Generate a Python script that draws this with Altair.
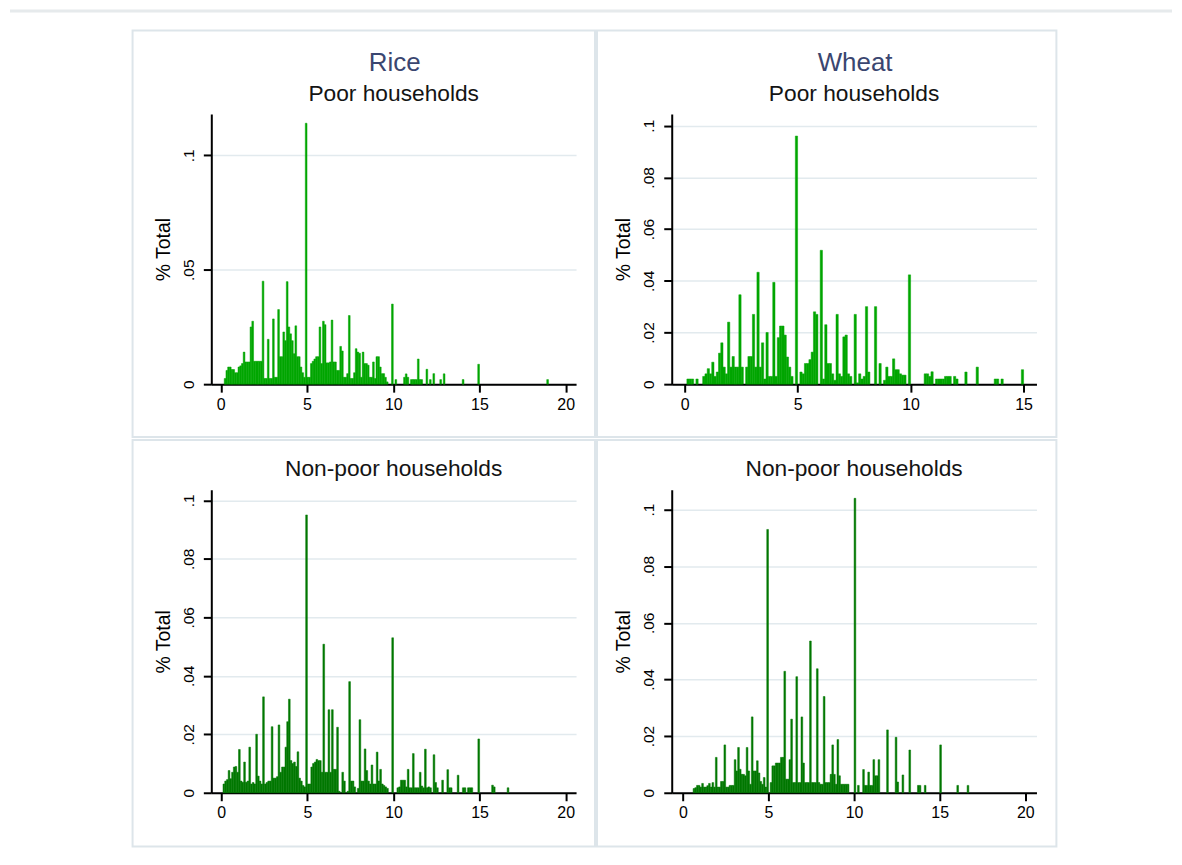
import altair as alt
import pandas as pd

BIN = 0.1
FONT = "Liberation Sans"

# Share of households per 0.1-wide bin, bins start at 0.0
rice_poor = [
    0, 0, .0025, .006, .0075, .0075, .0064, .0064, .005, .005,
    .0075, .008, .009, .014, .0097, .0097, .0097, .025, .0275, .010,
    .010, .010, .010, .010, .045, .0025, .0025, .0196, .0025, .0025,
    .0285, .003, .003, .0326, .012, .012, .0228, .019, .0448, .025,
    .022, .019, .0133, .0255, .012, .012, .0075, .005, .003, .114,
    .003, .003, .009, .010, .011, .012, .012, .025, .009, .0275,
    .026, .0093, .0093, .0097, .028, .0097, .0097, .006, .006, .0165,
    .0145, .003, .003, .0046, .030, .0025, .0025, .005, .0155, .014,
    .0135, .003, .014, .009, .009, .0083, .003, .003, .0097, .0025,
    .012, .012, .0075, .0046, .0046, .003, .001, 0, 0, .035,
    0, .002, 0, 0, 0, 0, .003, .0045, .003, 0,
    .002, .002, .002, .002, .011, .002, .002, 0, 0, .0065,
    0, .002, 0, .0046, 0, 0, 0, .002, 0, .0045,
    0, 0, 0, 0, 0, 0, 0, 0, 0, 0,
    .002, 0, 0, 0, 0, 0, 0, 0, 0, .0087,
    0, 0, 0, 0, 0, 0, 0, 0, 0, 0,
    0, 0, 0, 0, 0, 0, 0, 0, 0, 0,
    0, 0, 0, 0, 0, 0, 0, 0, 0, 0,
    0, 0, 0, 0, 0, 0, 0, 0, 0, .002,
]

wheat_poor = [
    0, .002, .002, .002, 0, .002, 0, 0, .003, .004,
    .006, .004, .0085, .003, .0047, .012, .016, .0066, .004, .024,
    .0066, .0107, .0066, .0066, .0346, .0066, 0, .0066, .0107, .0107,
    .027, .0066, .0433, .0066, .016, .002, .020, .003, .003, .0394,
    .003, .018, .0225, .0225, .019, .0105, .0066, .003, 0, .096,
    0, .0047, .004, .008, .008, .0095, .0124, .028, .027, 0,
    .0518, .002, .023, .008, .008, .004, .0015, .027, .004, .003,
    .0183, .019, .004, .003, 0, .027, .0005, .004, .002, .003,
    .030, .0047, 0, 0, .030, 0, .008, 0, .0015, .0066,
    .003, .003, .0098, .0056, .0056, .004, .0035, .0035, 0, .0423,
    0, 0, 0, 0, 0, 0, .004, .004, .003, .0048,
    0, .002, .002, .002, .002, .003, .003, .003, 0, .003,
    .002, 0, 0, 0, .0047, 0, 0, 0, 0, .0066,
    0, 0, 0, 0, 0, 0, 0, .002, .002, 0,
    .002, 0, 0, 0, 0, 0, 0, 0, 0, .0056,
]

rice_nonpoor = [
    0, .003, .004, .0045, .0076, .0048, .007, .0088, .009, .007,
    .0148, .004, .0036, .0105, .0036, .004, .0156, .003, .0035, .003,
    .020, .0057, .004, .003, .0328, .003, .0035, .004, .004, .0226,
    .005, .005, .0055, .0232, .007, .0088, .0088, .0156, .0243, .032,
    .011, .010, .0105, .009, .014, .005, .004, .0025, .002, .095,
    .003, .003, .0088, .010, .0105, .0114, .011, .011, .007, .0508,
    .007, .007, .0284, .007, .0284, .008, .008, .0224, .0005, 0,
    .007, .004, 0, .0005, .038, .004, .004, .002, 0, .0015,
    .025, .004, .004, .015, .0076, .004, .003, .0095, .003, .003,
    .0139, .004, .008, .003, .0025, .002, .0015, 0, 0, .053,
    0, 0, .0017, .002, .0043, .0043, .0043, .002, .008, .0017,
    .0017, .0134, .0017, .0017, .0017, .007, .0023, .0017, .0149, .0017,
    .002, .0017, 0, .013, .0035, .0017, 0, 0, .0043, 0,
    0, .0079, .0017, .0017, 0, 0, 0, .006, 0, 0,
    .0017, .0017, 0, .0017, .0017, .0017, 0, 0, 0, .0184,
    0, 0, 0, 0, 0, 0, 0, .0026, .002, 0,
    0, 0, 0, 0, 0, 0, .0017,
]

wheat_nonpoor = [
    0, 0, 0, 0, 0, 0, .0015, .0018, .0026, .0026,
    .002, .0033, .002, .002, .0025, .0033, .002, .0036, .002, .0125,
    .002, .002, .004, .004, .0169, .002, .002, .0026, .0026, .0026,
    .0117, .0077, .016, .0083, .0065, .0065, .006, .016, .0077, .003,
    .0268, .0077, .0077, .0113, .007, .004, .003, .0054, .002, .093,
    0, .0036, .0095, .0095, .0105, .0105, .0105, .0125, .0125, .0429,
    .0048, .0048, .0117, .026, .0036, .0036, .041, .0036, .0036, .0268,
    .0105, .0036, .0036, .0036, .0536, .0036, .0036, .0036, .0438, .0036,
    .003, .003, .034, .0036, .0036, .0036, .0065, .0169, .0065, .003,
    .0188, .006, .003, .003, .003, .003, .003, 0, 0, 0,
    .104, 0, .0026, 0, 0, .0082, .0026, .0026, .0073, .0026,
    .0026, .0117, .006, .006, .0117, 0, 0, 0, 0, .0222,
    0, 0, 0, 0, .0196, .0038, 0, 0, .0063, 0,
    0, 0, .0151, 0, 0, 0, 0, .0026, .0026, 0,
    0, .0026, 0, 0, 0, 0, 0, 0, 0, 0,
    .0169, 0, 0, 0, 0, 0, 0, 0, 0, 0,
    .0026, 0, 0, 0, 0, 0, .0026,
]

X_TICKS_20 = [0, 5, 10, 15, 20]
X_TICKS_15 = [0, 5, 10, 15]
Y_TICKS_05 = [0, 0.05, 0.1]
Y_TICKS_02 = [0, 0.02, 0.04, 0.06, 0.08, 0.1]

PANEL_W = 366
TOP_H = 271
BOTTOM_H = 304

LIGHT_GREEN = "#00a600"
DARK_GREEN = "#007800"
FRAME_C = "#dde5ea"
GRID_C = "#e2eaee"
TITLE_C = "#3a4670"
SUB_C = "#141414"
INK = "#000000"
TITLE_SIZE = 26
SUB_SIZE = 22.8


def bars_table(values):
    lo, hi, share = [], [], []
    for i, v in enumerate(values):
        if v > 0:
            lo.append(round(i * BIN, 2))
            hi.append(round((i + 1) * BIN, 2))
            share.append(v)
    return pd.DataFrame({"lo": lo, "hi": hi, "share": share})


def text_layer(label, x, y, size, color):
    return alt.Chart(pd.DataFrame({"label": [label]})).mark_text(
        font=FONT, fontSize=size, color=color, align="center", baseline="alphabetic"
    ).encode(text="label:N", x=alt.value(x), y=alt.value(y))


def frame_layer(x1, x2, y1, y2):
    return alt.Chart(pd.DataFrame({"k": [0]})).mark_rect(
        fill="transparent", stroke=FRAME_C, strokeWidth=2
    ).encode(x=alt.value(x1), x2=alt.value(x2), y=alt.value(y1), y2=alt.value(y2))


def top_band_layer():
    return alt.Chart(pd.DataFrame({"k": [0]})).mark_rule(
        color="#e6eaec", strokeWidth=3
    ).encode(x=alt.value(-202), x2=alt.value(964), y=alt.value(-103.5))


def panel(values, color, xdom, xticks, ydom, yticks, height, frame, texts, extra=None):
    df = bars_table(values)
    bars = alt.Chart(df).mark_rect(color=color, stroke=color, strokeWidth=0.5).encode(
        x=alt.X(
            "lo:Q",
            scale=alt.Scale(domain=xdom, nice=False, zero=False),
            axis=alt.Axis(
                values=xticks, format="d", title="", grid=False,
                labelFont=FONT, labelFontSize=16, labelColor=INK,
                labelPadding=4, labelFlush=False, labelOverlap=False,
                tickSize=8, tickWidth=2, tickColor=INK,
                domainColor=INK, domainWidth=2,
            ),
        ),
        x2="hi:Q",
        y=alt.Y(
            "share:Q",
            scale=alt.Scale(domain=ydom, nice=False, zero=True),
            axis=alt.Axis(
                values=yticks,
                labelExpr="datum.value == 0 ? '0' : slice(toString(datum.value), 1)",
                labelAngle=270, labelAlign="center", labelBaseline="bottom",
                labelFont=FONT, labelFontSize=15.5, labelColor=INK,
                labelPadding=7, labelOverlap=False, labelFlush=False,
                tickSize=8, tickWidth=2, tickColor=INK,
                domainColor=INK, domainWidth=2,
                grid=True, gridColor=GRID_C, gridWidth=1.5,
                title="% Total", titleFont=FONT, titleFontSize=19.5,
                titleFontWeight="normal", titleColor=INK, titlePadding=8,
            ),
        ),
        y2=alt.datum(0),
    )
    layers = ([extra] if extra is not None else []) + [frame_layer(*frame), bars] + texts
    return alt.layer(*layers).properties(width=PANEL_W, height=height)


p1 = panel(
    rice_poor, LIGHT_GREEN, [-0.55, 20.6], X_TICKS_20, [0, 0.118], Y_TICKS_05, TOP_H,
    (-79, 385, -84, 324),
    [text_layer("Rice", 184, -43, TITLE_SIZE, TITLE_C),
     text_layer("Poor households", 183, -13, SUB_SIZE, SUB_C)],
    extra=top_band_layer(),
)
p2 = panel(
    wheat_poor, LIGHT_GREEN, [-0.57, 15.57], X_TICKS_15, [0, 0.1045], Y_TICKS_02, TOP_H,
    (-75, 386, -84, 324),
    [text_layer("Wheat", 184, -43, TITLE_SIZE, TITLE_C),
     text_layer("Poor households", 183, -13, SUB_SIZE, SUB_C)],
)
p3 = panel(
    rice_nonpoor, DARK_GREEN, [-0.58, 20.6], X_TICKS_20, [0, 0.1036], Y_TICKS_02, BOTTOM_H,
    (-79, 385, -50, 358),
    [text_layer("Non-poor households", 183, -14, SUB_SIZE, SUB_C)],
)
p4 = panel(
    wheat_nonpoor, DARK_GREEN, [-0.65, 20.65], X_TICKS_20, [0, 0.107], Y_TICKS_02, BOTTOM_H,
    (-75, 386, -50, 358),
    [text_layer("Non-poor households", 183, -14, SUB_SIZE, SUB_C)],
)

chart = alt.concat(
    p1, p2, p3, p4, columns=2, spacing={"row": 106, "column": 96}, bounds="flush"
).properties(
    padding={"left": 0, "top": 0, "right": 0, "bottom": 8},
    background="white",
).configure_view(strokeWidth=0)

chart.save("out.html", embed_options={"renderer": "svg", "actions": False})
